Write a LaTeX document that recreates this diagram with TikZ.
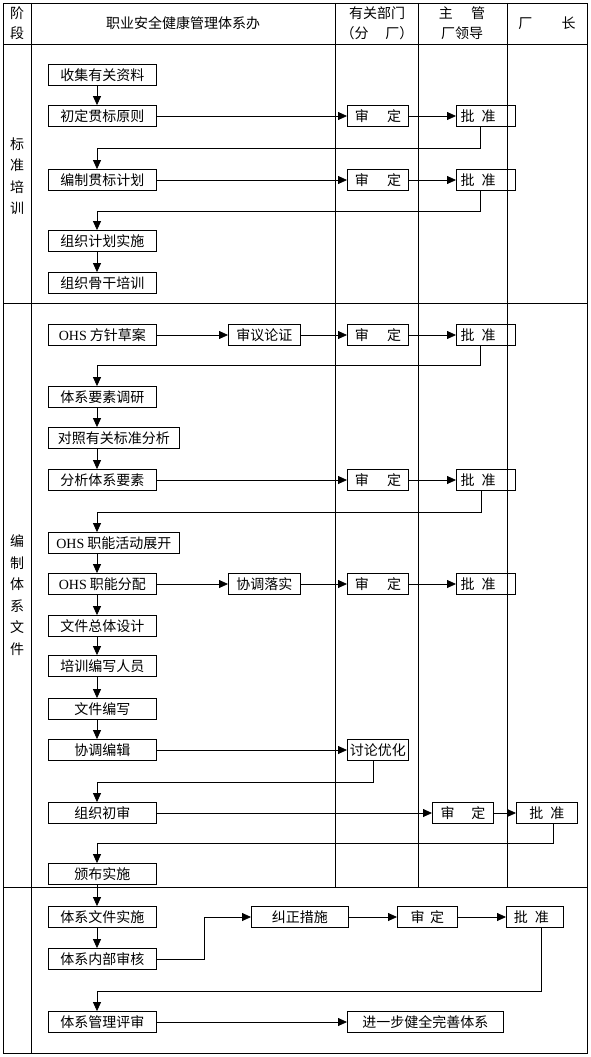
\documentclass[tikz,border=0pt]{standalone}
\usepackage{fontspec}
\setmainfont{Noto Sans CJK SC}
\newfontfamily\ohsfont{Liberation Serif}
\usetikzlibrary{arrows.meta}

\begin{document}
\begin{tikzpicture}[
  x=1pt, y=-1pt,
  font=\fontsize{14}{16}\selectfont,
  grid/.style={line width=0.9pt},
  stepbox/.style={draw, line width=0.8pt, minimum height=21pt,
                  inner sep=0pt, anchor=west},
  mainbox/.style={stepbox, minimum width=108pt},
  widebox/.style={stepbox, minimum width=131pt},
  vlabel/.style={align=center, font=\fontsize{14}{21.5}\selectfont},
  head/.style={align=center, font=\fontsize{14}{20}\selectfont},
  flow/.style={-{Triangle[length=9pt, width=8pt]}, line width=0.8pt},
]
  \useasboundingbox (0,0) rectangle (590,1057);
  \draw[grid] (3,3) rectangle (587,1053);
  \draw[grid] (3,44) -- (587,44);
  \draw[grid] (3,303) -- (587,303);
  \draw[grid] (3,887) -- (587,887);
  \draw[grid] (31,3) -- (31,1053);
  \foreach \cx in {335, 418, 507}
    \draw[grid] (\cx,3) -- (\cx,887);

  \node[head] (hstage) at (17,23) {阶\\段};
  \node[head] (hoffice) at (183,23) {职业安全健康管理体系办};
  \node[head] (hdept) at (377,23) {有关部门\\（分\hspace{1.2em}厂）};
  \node[head] (hlead) at (462,23) {主\hspace{1.3em}管\\厂领导};
  \node[head] (hdir) at (547,23) {厂\hspace{2.1em}长};
  \node[vlabel] (s1) at (17,176) {标\\准\\培\\训};
  \node[vlabel] (s2) at (17,595) {编\\制\\体\\系\\文\\件};

  \coordinate (spine) at (97,0);

  \node[mainbox] (c1) at (48,75) {收集有关资料};
  \node[mainbox] (c2) at (48,116) {初定贯标原则};
  \node[mainbox] (c3) at (48,180) {编制贯标计划};
  \node[mainbox] (c4) at (48,241) {组织计划实施};
  \node[mainbox] (c5) at (48,283) {组织骨干培训};

  \node[mainbox] (d1) at (48,335) {{\ohsfont OHS} 方针草案};
  \node[mainbox] (d2) at (48,397) {体系要素调研};
  \node[widebox] (d3) at (48,438) {对照有关标准分析};
  \node[mainbox] (d4) at (48,480) {分析体系要素};
  \node[widebox] (d5) at (48,543) {{\ohsfont OHS} 职能活动展开};
  \node[mainbox] (d6) at (48,584) {{\ohsfont OHS} 职能分配};
  \node[mainbox] (d7) at (48,626) {文件总体设计};
  \node[mainbox] (d8) at (48,666) {培训编写人员};
  \node[mainbox] (d9) at (48,709) {文件编写};
  \node[mainbox] (d10) at (48,750) {协调编辑};
  \node[mainbox] (d11) at (48,813) {组织初审};
  \node[mainbox] (d12) at (48,874) {颁布实施};

  \node[mainbox] (e1) at (48,917) {体系文件实施};
  \node[mainbox] (e2) at (48,959) {体系内部审核};
  \node[mainbox] (e3) at (48,1022) {体系管理评审};

  \foreach \row/\ry in {1/116, 2/180, 3/335, 4/480, 5/584} {
    \node[stepbox, minimum width=61pt] (sd\row) at (347,\ry) {审\hspace{1.3em}定};
    \node[stepbox, minimum width=59pt] (pz\row) at (456,\ry) {批\hspace{0.5em}准\hspace*{1.1em}};
  }
  \node[stepbox, minimum width=72pt] (yl) at (228,335) {审议论证};
  \node[stepbox, minimum width=72pt] (xt) at (228,584) {协调落实};
  \node[stepbox, minimum width=61pt] (tl) at (347,750) {讨论优化};
  \node[stepbox, minimum width=61pt] (sd6) at (432,813) {审\hspace{1.2em}定};
  \node[stepbox, minimum width=61pt] (pz6) at (516,813) {批\hspace{0.5em}准};
  \node[stepbox, minimum width=97pt] (jz) at (251,917) {纠正措施};
  \node[stepbox, minimum width=60pt] (sd7) at (397,917) {审\hspace{0.4em}定};
  \node[stepbox, minimum width=57pt] (pz7) at (506,917) {批\hspace{0.5em}准\hspace*{0.5em}};
  \node[stepbox, minimum width=156pt] (jq) at (347,1022) {进一步健全完善体系};

  \foreach \a/\b in {c1/c2, c4/c5, d2/d3, d3/d4, d5/d6, d6/d7, d7/d8,
                     d8/d9, d9/d10, d12/e1, e1/e2} {
    \draw[flow] (\a.south -| spine) -- (\b.north -| spine);
  }
  \foreach \a/\b in {c2/sd1, sd1/pz1, c3/sd2, sd2/pz2, d1/yl, yl/sd3, sd3/pz3,
                     d4/sd4, sd4/pz4, d6/xt, xt/sd5, sd5/pz5, d10/tl,
                     d11/sd6, sd6/pz6, jz/sd7, sd7/pz7, e3/jq} {
    \draw[flow] (\a.east) -- (\b.west);
  }
  \foreach \from/\dx/\drop/\to in {pz1/-6/21/c3, pz2/-6/20/c4, pz3/-6/19/d2,
                                   pz4/-5/21/d5, tl/-5/21/d11, pz6/6/19/d12,
                                   pz7/6/63/e3} {
    \draw[flow] ([xshift=\dx pt]\from.south) -- ++(0,\drop) -| (\to.north -| spine);
  }
  \draw[flow] (e2.east) -- ++(48,0) |- (jz.west);
\end{tikzpicture}
\end{document}
